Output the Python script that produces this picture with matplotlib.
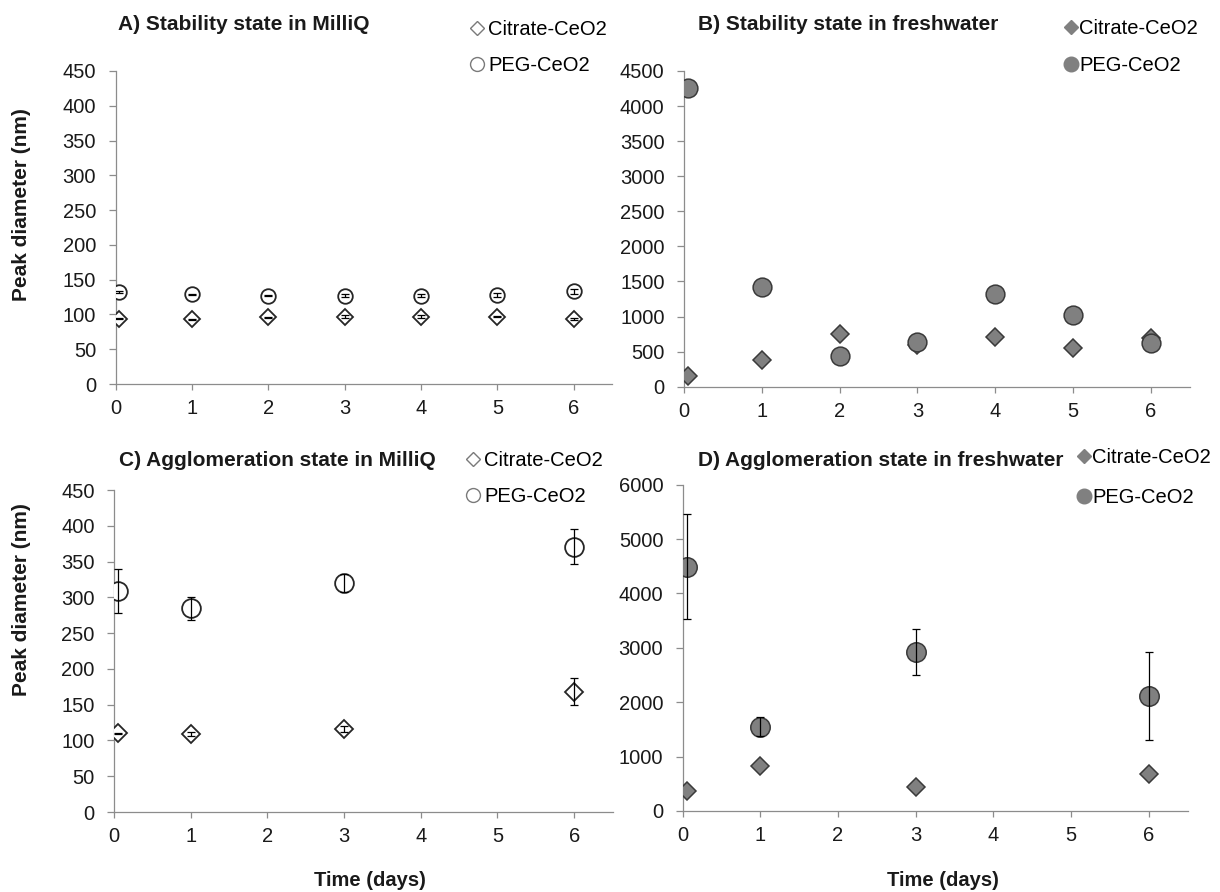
import matplotlib
matplotlib.use('Agg')
import matplotlib.pyplot as plt
from matplotlib.lines import Line2D

plt.rcParams['font.family'] = ['Liberation Sans', 'DejaVu Sans']

# sampling times (days)
days_stab = [0.05, 1, 2, 3, 4, 5, 6]
days_aggl = [0.05, 1, 3, 6]

# A) stability in MilliQ
a_cit = [94, 93, 96, 97, 97, 97, 93]
a_cit_err = [1, 1, 1, 1.5, 1.5, 1, 1.5]
a_peg = [132, 129, 127, 127, 127, 128, 133]
a_peg_err = [1, 1, 1, 2, 2, 3, 4]

# B) stability in freshwater
b_cit = [157, 380, 750, 590, 703, 547, 690]
b_peg = [4264, 1424, 441, 632, 1320, 1021, 627]

# C) agglomeration in MilliQ
c_cit = [110, 109, 116, 168]
c_cit_err = [1, 3, 4, 19]
c_peg = [309, 285, 320, 371]
c_peg_err = [31, 16, 13, 24]

# D) agglomeration in freshwater
d_cit = [368, 827, 441, 687]
d_peg = [4493, 1551, 2930, 2115]
d_peg_err = [971, 180, 425, 815]

titles = ['A) Stability state in MilliQ', 'B) Stability state in freshwater',
          'C) Agglomeration state in MilliQ', 'D) Agglomeration state in freshwater']
labels = ['Citrate-CeO2', 'PEG-CeO2']

W, H = 1220, 892
AXC = '#8c8c8c'
FILL = '#808080'
DARK = '#262626'
TXT = '#1a1a1a'


def px(x0, y0, x1, y1):
    # pixel box -> figure fraction rect
    return [x0 / W, 1 - y1 / H, (x1 - x0) / W, (y1 - y0) / H]


def panel(rect, x, cit, peg, ymax, ystep, filled, ms_d, ms_o, cit_err=None, peg_err=None):
    ax = fig.add_axes(rect)
    if filled:
        kw = dict(mfc=FILL, mec='#3a3a3a', mew=1.1)
    else:
        kw = dict(mfc='white', mec=DARK, mew=1.3)
    ax.plot(x, cit, ls='none', marker='D', ms=ms_d, zorder=3, **kw)
    ax.plot(x, peg, ls='none', marker='o', ms=ms_o, zorder=3, **kw)
    for y, e in ((cit, cit_err), (peg, peg_err)):
        if e is not None:
            ax.errorbar(x, y, yerr=e, fmt='none', ecolor='black', elinewidth=0.9,
                        capsize=3, capthick=0.9, zorder=4)
    ax.set_xlim(0, 6.5)
    ax.set_ylim(0, ymax)
    ax.set_xticks(range(7))
    ax.set_yticks(range(0, ymax + 1, ystep))
    for s in ['top', 'right']:
        ax.spines[s].set_visible(False)
    for s in ['left', 'bottom']:
        ax.spines[s].set_color(AXC)
        ax.spines[s].set_linewidth(0.9)
    ax.tick_params(axis='x', direction='out', length=4, width=0.9, color=AXC,
                   labelsize=14.5, pad=7, labelcolor=TXT)
    ax.tick_params(axis='y', direction='out', length=5, width=0.9, color=AXC,
                   labelsize=14.5, pad=9, labelcolor=TXT)
    ax.patch.set_alpha(0)
    return ax


fig = plt.figure(figsize=(W / 100, H / 100), dpi=100)

panel(px(115.5, 71, 612, 384), days_stab, a_cit, a_peg, 450, 50, False, 8.5, 10.5,
      a_cit_err, a_peg_err)
panel(px(684, 71, 1189.6, 386.7), days_stab, b_cit, b_peg, 4500, 500, True, 9.3, 13.5)
panel(px(114, 490, 612.5, 812), days_aggl, c_cit, c_peg, 450, 50, False, 9, 13.5,
      c_cit_err, c_peg_err)
panel(px(682.7, 484.7, 1187.6, 811), days_aggl, d_cit, d_peg, 6000, 1000, True, 9.6, 14,
      None, d_peg_err)

# titles
for t, (cx, cy) in zip(titles, [(244, 25), (848, 25), (277, 461), (881, 461)]):
    fig.text(cx / W, 1 - cy / H, t, ha='center', va='center', fontsize=15,
             fontweight='bold', color=TXT)

# axis labels
for cy in (205, 600):
    fig.text(22 / W, 1 - cy / H, 'Peak diameter (nm)', rotation=90, ha='center',
             va='center', fontsize=15, fontweight='bold', color=TXT)
for cx in (370, 943):
    fig.text(cx / W, 1 - 881 / H, 'Time (days)', ha='center', va='center',
             fontsize=14.5, fontweight='bold', color=TXT)

# legends
open_h = [Line2D([], [], ls='none', marker='D', ms=7, mfc='white', mec='#7a7a7a', mew=1),
          Line2D([], [], ls='none', marker='o', ms=10, mfc='white', mec='#7a7a7a', mew=1)]
fill_h = [Line2D([], [], ls='none', marker='D', ms=7, mfc=FILL, mec=FILL),
          Line2D([], [], ls='none', marker='o', ms=10.5, mfc=FILL, mec=FILL)]
for h, (lx, ly), sp, tp in [(open_h, (470, 20), 0.85, 0.2), (fill_h, (1064, 19), 0.9, 0.05),
                            (open_h, (466, 451), 0.85, 0.2), (fill_h, (1077, 448), 1.05, 0.05)]:
    fig.legend(h, labels, loc='upper left', bbox_to_anchor=(lx / W, 1 - ly / H),
               frameon=False, fontsize=14.5, handlelength=0.7, handletextpad=tp,
               labelspacing=sp, borderpad=0, borderaxespad=0)

fig.savefig('out.png', dpi=100)
